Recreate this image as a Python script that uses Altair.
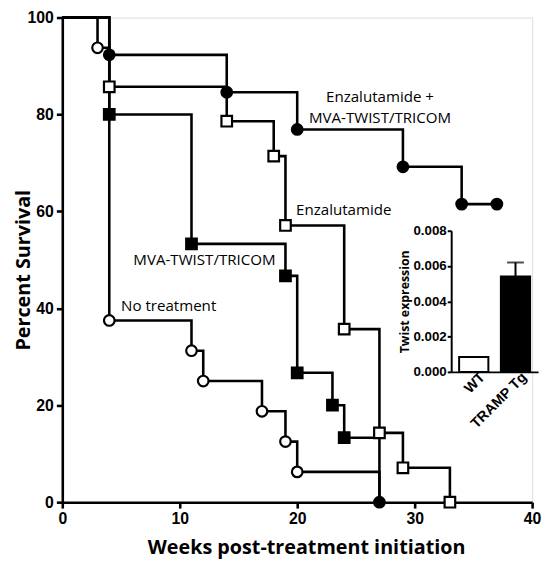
import altair as alt
import pandas as pd

# ---------------- data ----------------
# Kaplan-Meier steps: (week, percent survival); first point is the start
no_tx_weeks = [0, 3, 4, 11, 12, 17, 19, 20, 27]
no_tx_surv = [100, 93.75, 37.5, 31.25, 25, 18.75, 12.5, 6.25, 0]

mva_weeks = [0, 4, 11, 19, 20, 23, 24, 27]
mva_surv = [100, 80, 53.3, 46.7, 26.7, 20, 13.3, 0]

enz_weeks = [0, 4, 14, 18, 19, 24, 27, 29, 33]
enz_surv = [100, 85.7, 78.6, 71.4, 57.1, 35.7, 14.3, 7.1, 0]

combo_weeks = [0, 4, 14, 20, 29, 34, 37]
combo_surv = [100, 92.3, 84.6, 76.9, 69.2, 61.5, 61.5]

series_names = ["No treatment", "MVA-TWIST/TRICOM", "Enzalutamide", "Enzalutamide + MVA-TWIST/TRICOM"]
series_shapes = ["circle", "square", "square", "circle"]
series_filled = [False, True, False, True]

# annotation labels (text, week, percent, align)
label_texts = ["Enzalutamide +", "MVA-TWIST/TRICOM", "Enzalutamide", "MVA-TWIST/TRICOM", "No treatment"]
label_x = [27.05, 27.05, 19.9, 6.05, 5.0]
label_y = [83.6, 79.3, 60.3, 49.9, 40.4]
label_align = ["center", "center", "left", "left", "left"]

# inset bar chart
inset_groups = ["WT", "TRAMP Tg"]
inset_values = [0.00084, 0.0054]
inset_err_upper = [None, 0.0062]
inset_ticks = [0, 0.002, 0.004, 0.006, 0.008]

main_x_ticks = [0, 10, 20, 30, 40]
main_y_ticks = [0, 20, 40, 60, 80, 100]

# ---------------- tables ----------------
all_weeks = [no_tx_weeks, mva_weeks, enz_weeks, combo_weeks]
all_surv = [no_tx_surv, mva_surv, enz_surv, combo_surv]

line_rows = []
mark_rows = []
for name, shp, fil, ws, ss in zip(series_names, series_shapes, series_filled, all_weeks, all_surv):
    for i, (w, s) in enumerate(zip(ws, ss)):
        line_rows.append({"series": name, "week": w, "surv": s, "order": i})
        if i > 0:
            f = fil
            # overlapping end points at (27, 0) render as a solid dot
            if w == 27 and s == 0:
                if name == "MVA-TWIST/TRICOM":
                    continue
                f = True
            mark_rows.append({"series": name, "week": w, "surv": s,
                              "shape": shp, "fillc": "black" if f else "white"})
lines_df = pd.DataFrame(line_rows)
marks_df = pd.DataFrame(mark_rows)
labels_df = pd.DataFrame({"text": label_texts, "week": label_x, "surv": label_y, "align": label_align})

inset_df = pd.DataFrame({"group": inset_groups, "value": inset_values,
                         "fillc": ["white", "black"], "base": [0, 0]})
err_df = pd.DataFrame({"group": inset_groups, "value": inset_values, "upper": inset_err_upper}).dropna()

# ---------------- geometry ----------------
W = 476
H = 491
PAD_L, PAD_T, PAD_R, PAD_B = 55, 6, 10, 60

XF = "Liberation Sans"
TF = "Open Sans"

xs = alt.Scale(domain=[0, 40], nice=False, zero=False)
ys = alt.Scale(domain=[0, 100], nice=False)

x_axis = alt.Axis(values=main_x_ticks, title="Weeks post-treatment initiation", grid=False,
                  domainColor="black", domainWidth=2.6, tickColor="black", tickWidth=2.6, tickSize=6,
                  labelFont=XF, labelFontWeight="bold", labelFontSize=16, labelColor="black",
                  labelPadding=3, labelFlush=False,
                  titleFont=TF, titleFontWeight="bold", titleFontSize=20, titleColor="black",
                  titleX=W / 2 + 9, titleY=46, titleBaseline="middle")
y_axis = alt.Axis(values=main_y_ticks, title="Percent Survival", grid=False,
                  domainColor="black", domainWidth=2.6, tickColor="black", tickWidth=2.6, tickSize=6,
                  labelFont=XF, labelFontWeight="bold", labelFontSize=16, labelColor="black",
                  labelPadding=3, labelFlush=False,
                  titleFont=TF, titleFontWeight="bold", titleFontSize=20, titleColor="black",
                  titleX=-39, titleY=H / 2 + 10, titleBaseline="middle")

lines = alt.Chart(lines_df).mark_line(interpolate="step-after", color="black", strokeWidth=2.6).encode(
    x=alt.X("week:Q", scale=xs, axis=x_axis),
    y=alt.Y("surv:Q", scale=ys, axis=y_axis),
    detail="series:N",
    order="order:Q",
)

points = alt.Chart(marks_df).mark_point(size=115, strokeWidth=2.2, opacity=1, stroke="black").encode(
    x=alt.X("week:Q", scale=xs),
    y=alt.Y("surv:Q", scale=ys),
    shape=alt.Shape("shape:N", scale=None, legend=None),
    fill=alt.Fill("fillc:N", scale=None, legend=None),
)

texts_c = alt.Chart(labels_df[labels_df["align"] == "center"]).mark_text(
    font=TF, fontSize=15.3, color="black", align="center", baseline="middle").encode(
    x=alt.X("week:Q", scale=xs), y=alt.Y("surv:Q", scale=ys), text="text:N")
texts_l = alt.Chart(labels_df[labels_df["align"] == "left"]).mark_text(
    font=TF, fontSize=15.3, color="black", align="left", baseline="middle").encode(
    x=alt.X("week:Q", scale=xs), y=alt.Y("surv:Q", scale=ys), text="text:N")

main = alt.layer(lines, points, texts_c, texts_l)

# ---------------- inset ----------------
ixs = alt.Scale(domain=inset_groups, range=[394, 482], paddingInner=0.3, paddingOuter=0.19)
iys = alt.Scale(domain=[0, 0.008], nice=False, range=[359, 216])

ix_axis = alt.Axis(orient="bottom", offset=-132, title=None, ticks=False, labels=False, grid=False,
                   domainColor="black", domainWidth=2)
iy_axis = alt.Axis(orient="left", offset=-394, values=inset_ticks, format=".3f", grid=False,
                   title="Twist expression", domainColor="black", domainWidth=2,
                   tickColor="black", tickWidth=2, tickSize=4,
                   labelFont=XF, labelFontWeight="bold", labelFontSize=13.5, labelColor="black",
                   labelPadding=1, labelFlush=False,
                   titleFont=TF, titleFontWeight="bold", titleFontSize=12.5, titleColor="black",
                   titleX=-47, titleBaseline="middle")

bars = alt.Chart(inset_df).mark_bar(stroke="black", strokeWidth=2).encode(
    x=alt.X("group:N", scale=ixs, axis=ix_axis, sort=inset_groups),
    y=alt.Y("value:Q", scale=iys, axis=iy_axis),
    fill=alt.Fill("fillc:N", scale=None, legend=None),
)
err = alt.Chart(err_df).mark_rule(color="black", strokeWidth=2).encode(
    x=alt.X("group:N", scale=ixs, sort=inset_groups),
    y=alt.Y("value:Q", scale=iys),
    y2="upper:Q",
)
cap = alt.Chart(err_df).mark_tick(color="black", thickness=2, size=17).encode(
    x=alt.X("group:N", scale=ixs, sort=inset_groups),
    y=alt.Y("upper:Q", scale=iys),
)
cat_labels = alt.Chart(inset_df).mark_text(
    angle=315, align="right", baseline="middle", font=XF, fontWeight="bold", fontSize=14.5,
    color="black", dx=4, dy=9).encode(
    x=alt.X("group:N", scale=ixs, sort=inset_groups),
    y=alt.Y("base:Q", scale=iys),
    text="group:N",
)
inset = alt.layer(bars, err, cap, cat_labels)

chart = alt.layer(main, inset).resolve_scale(x="independent", y="independent").properties(
    width=W, height=H,
    autosize=alt.AutoSizeParams(type="none"),
    padding={"left": PAD_L, "top": PAD_T, "right": PAD_R, "bottom": PAD_B},
).configure_view(stroke=None).configure(background="white")

chart.save("out.html", embed_options={"renderer": "svg", "actions": False})
